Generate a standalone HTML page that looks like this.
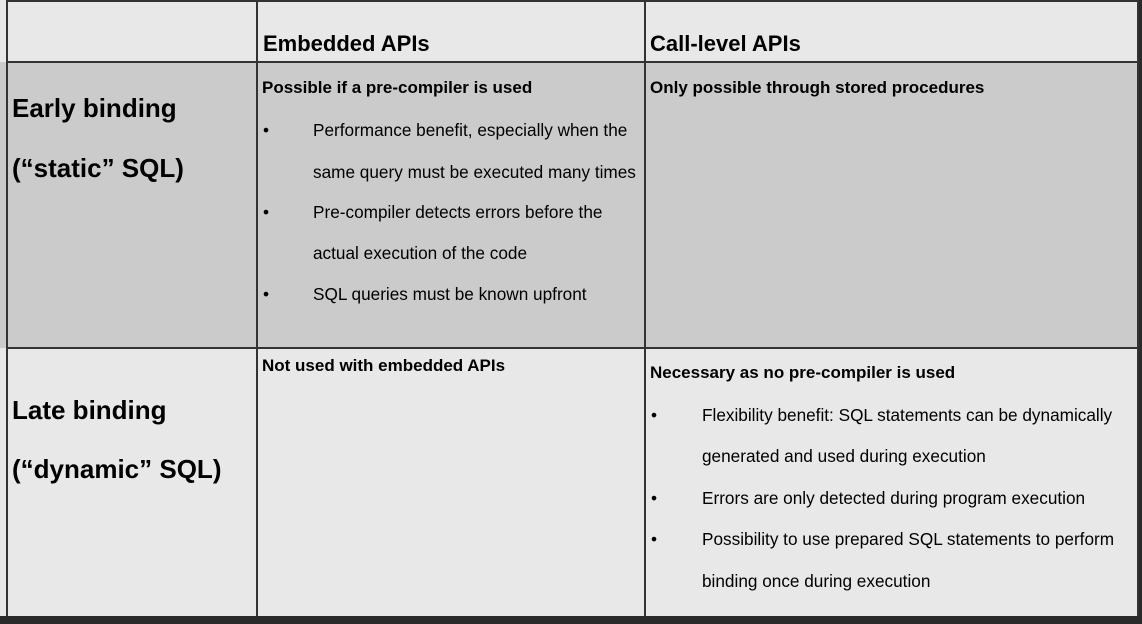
<!DOCTYPE html>
<html><head><meta charset="utf-8"><style>
body{margin:0;width:1142px;height:624px;background:#2a2a2a;position:relative;overflow:hidden;font-family:"Liberation Sans",Arial,sans-serif;color:#000}
.r{position:absolute}
.t{position:absolute;white-space:nowrap;line-height:1}
.h{font-size:22px;font-weight:bold}
.e{font-size:26px;font-weight:bold}
.b{font-size:17px;font-weight:bold}
.n{font-size:17.2px}
.v{position:absolute;width:2px;background:#333}
.hl{position:absolute;height:2px;background:#333}
</style></head><body>
<div class="r" style="left:0;top:0;width:1139px;height:62px;background:#e8e8e8"></div>
<div class="r" style="left:0;top:62px;width:1139px;height:286px;background:#cbcbcb"></div>
<div class="r" style="left:0;top:348px;width:1139px;height:268px;background:#e8e8e8"></div>
<div class="r" style="left:0;top:616px;width:1142px;height:8px;background:#2a2a2a"></div>
<div class="hl" style="left:6px;top:0;width:1133px"></div>
<div class="hl" style="left:6px;top:61px;width:1133px"></div>
<div class="hl" style="left:6px;top:347px;width:1133px"></div>
<div class="v" style="left:6px;top:0;height:616px"></div>
<div class="v" style="left:256px;top:0;height:616px"></div>
<div class="v" style="left:644px;top:0;height:616px"></div>
<div class="v" style="left:1137px;top:0;height:616px"></div>

<div class="t h" style="left:263px;top:33px">Embedded APIs</div>
<div class="t h" style="left:650px;top:33px">Call-level APIs</div>

<div class="t e" style="left:12px;top:95px">Early binding</div>
<div class="t e" style="left:12px;top:155px">(“static” SQL)</div>
<div class="t e" style="left:12px;top:397px">Late binding</div>
<div class="t e" style="left:12px;top:456px">(“dynamic” SQL)</div>

<div class="t b" style="left:262px;top:79px">Possible if a pre-compiler is used</div>
<div class="t n" style="left:263px;top:122px">•</div><div class="t n" style="left:313px;top:122px">Performance benefit, especially when the</div>
<div class="t n" style="left:313px;top:164px">same query must be executed many times</div>
<div class="t n" style="left:263px;top:204px">•</div><div class="t n" style="left:313px;top:204px">Pre-compiler detects errors before the</div>
<div class="t n" style="left:313px;top:245px">actual execution of the code</div>
<div class="t n" style="left:263px;top:286px">•</div><div class="t n" style="left:313px;top:286px">SQL queries must be known upfront</div>

<div class="t b" style="left:650px;top:79px">Only possible through stored procedures</div>

<div class="t b" style="left:262px;top:357px">Not used with embedded APIs</div>

<div class="t b" style="left:650px;top:364px">Necessary as no pre-compiler is used</div>
<div class="t n" style="left:651px;top:407px">•</div><div class="t n" style="left:702px;top:407px">Flexibility benefit: SQL statements can be dynamically</div>
<div class="t n" style="left:702px;top:448px">generated and used during execution</div>
<div class="t n" style="left:651px;top:490px">•</div><div class="t n" style="left:702px;top:490px">Errors are only detected during program execution</div>
<div class="t n" style="left:651px;top:531px">•</div><div class="t n" style="left:702px;top:531px">Possibility to use prepared SQL statements to perform</div>
<div class="t n" style="left:702px;top:573px">binding once during execution</div>
</body></html>
